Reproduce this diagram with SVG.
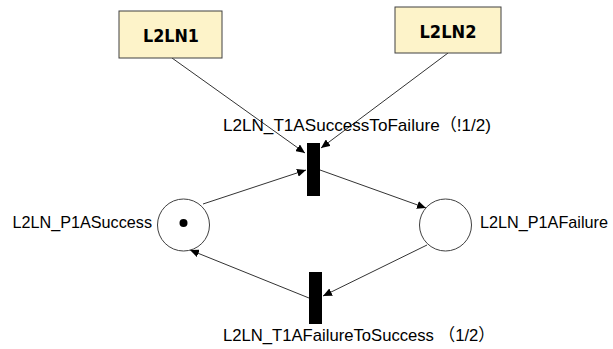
<svg xmlns="http://www.w3.org/2000/svg" width="613" height="349" viewBox="0 0 613 349">
  <defs>
    <marker id="arr" markerUnits="userSpaceOnUse" markerWidth="10" markerHeight="8" refX="9" refY="4" orient="auto">
      <path d="M0,0 L9,4 L0,8 Z" fill="#000"/>
    </marker>
    <style>
      .box { fill: #FDF3C9; stroke: #404040; stroke-width: 1; }
      .boxlabel { font-family: "DejaVu Sans", "Liberation Sans", sans-serif; font-weight: bold; font-size: 17px; fill: #000; text-anchor: middle; }
      .place { fill: #fff; stroke: #404040; stroke-width: 1; }
      .bar { fill: #000; }
      .lbl { font-family: "Liberation Sans", "Noto Sans CJK JP", sans-serif; font-size: 17px; fill: #000; }
      .arc { stroke: #333; stroke-width: 1; fill: none; marker-end: url(#arr); }
    </style>
  </defs>
  <rect width="613" height="349" fill="#fff"/>

  <g id="connectors">
    <line class="arc" x1="172" y1="58" x2="305" y2="153"/>
    <line class="arc" x1="448" y1="53" x2="321" y2="148"/>
    <line class="arc" x1="203" y1="204" x2="306" y2="170"/>
    <line class="arc" x1="320" y1="170" x2="426" y2="208"/>
    <line class="arc" x1="427" y1="245" x2="323" y2="296"/>
    <line class="arc" x1="309" y1="298" x2="190" y2="250"/>
  </g>

  <g id="L2LN1">
    <rect class="box" x="119" y="11" width="103" height="47"/>
    <text class="boxlabel" x="171" y="42" textLength="56" lengthAdjust="spacingAndGlyphs">L2LN1</text>
  </g>

  <g id="L2LN2">
    <rect class="box" x="395" y="7" width="106" height="46"/>
    <text class="boxlabel" x="448" y="38" textLength="57" lengthAdjust="spacingAndGlyphs">L2LN2</text>
  </g>

  <g id="T1ASuccessToFailure">
    <rect class="bar" x="307" y="143" width="13" height="53"/>
    <text class="lbl" x="223" y="131" textLength="268" lengthAdjust="spacingAndGlyphs">L2LN_T1ASuccessToFailure（!1/2)</text>
  </g>

  <g id="T1AFailureToSuccess">
    <rect class="bar" x="309" y="272" width="13" height="52"/>
    <text class="lbl" x="223" y="341" textLength="272" lengthAdjust="spacingAndGlyphs">L2LN_T1AFailureToSuccess （1/2）</text>
  </g>

  <g id="P1ASuccess">
    <circle class="place" cx="183.5" cy="225" r="26"/>
    <circle cx="183.5" cy="223" r="4" fill="#000"/>
    <text class="lbl" x="12.5" y="228" textLength="139.5" lengthAdjust="spacingAndGlyphs">L2LN_P1ASuccess</text>
  </g>

  <g id="P1AFailure">
    <circle class="place" cx="445.5" cy="225" r="26"/>
    <text class="lbl" x="480" y="228" textLength="128" lengthAdjust="spacingAndGlyphs">L2LN_P1AFailure</text>
  </g>
</svg>
